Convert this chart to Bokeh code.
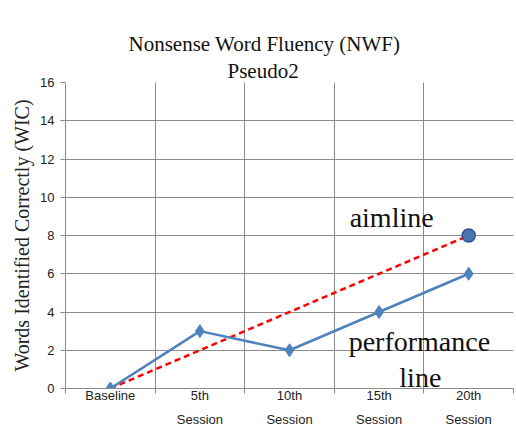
from bokeh.plotting import figure
from bokeh.models import Range1d, FixedTicker, Label, ColumnDataSource, Title
from bokeh.embed import file_html
from bokeh.resources import INLINE

categories = ["Baseline", "5th\nSession", "10th\nSession", "15th\nSession", "20th\nSession"]
performance = [0, 3, 2, 4, 6]
aimline = [0, 2, 4, 6, 8]
y_ticks = [0, 2, 4, 6, 8, 10, 12, 14, 16]

xpos = [i + 0.5 for i in range(len(categories))]

p = figure(width=516, height=441, output_backend="svg", toolbar_location=None,
           x_range=Range1d(0, len(categories)), y_range=Range1d(0, 16),
           min_border_left=65, min_border_right=3, min_border_top=82, min_border_bottom=53)

p.title.text = "Nonsense Word Fluency (NWF)"
p.title.align = "left"
p.title.offset = 63
p.title.text_font = "Liberation Serif"
p.title.text_font_style = "normal"
p.title.text_font_size = "21px"
p.title.text_color = "#111111"
p.title.standoff = 2
p.add_layout(Title(text="Pseudo2", align="left", offset=162,
                   text_font="Liberation Serif", text_font_style="normal",
                   text_font_size="21px", text_color="#111111", standoff=0), "above")
# invisible spacer between subtitle and plot area
p.add_layout(Title(text=".", text_font_size="10px", text_alpha=0, standoff=12), "above")

p.outline_line_color = None

# x axis
p.xaxis.ticker = FixedTicker(ticks=xpos, minor_ticks=list(range(len(categories) + 1)))
p.xaxis.major_label_overrides = {x: c for x, c in zip(xpos, categories)}
p.xaxis.major_tick_out = 0
p.xaxis.major_tick_in = 0
p.xaxis.minor_tick_out = 5
p.xaxis.minor_tick_in = 0
p.xaxis.minor_tick_line_color = "#8c8c8c"
p.xaxis.axis_line_color = "#8c8c8c"
p.xaxis.major_label_text_font = "Liberation Sans"
p.xaxis.major_label_text_font_size = "13px"
p.xaxis.major_label_text_line_height = 1.6
p.xaxis.major_label_text_color = "#222222"
p.xaxis.major_label_standoff = -6

p.xgrid.ticker = FixedTicker(ticks=list(range(len(categories) + 1)))
p.xgrid.grid_line_color = "#8c8c8c"

# y axis
p.yaxis.ticker = FixedTicker(ticks=y_ticks)
p.yaxis.minor_tick_line_color = None
p.yaxis.major_tick_out = 5
p.yaxis.major_tick_in = 0
p.yaxis.major_tick_line_color = "#8c8c8c"
p.yaxis.axis_line_color = "#8c8c8c"
p.yaxis.major_label_text_font = "Liberation Sans"
p.yaxis.major_label_text_font_size = "13px"
p.yaxis.major_label_text_color = "#222222"
p.yaxis.major_label_standoff = 6
p.yaxis.axis_label = "Words Identified Correctly (WIC)"
p.yaxis.axis_label_text_font = "Liberation Serif"
p.yaxis.axis_label_text_font_style = "normal"
p.yaxis.axis_label_text_font_size = "20px"
p.yaxis.axis_label_text_color = "#222222"
p.yaxis.axis_label_standoff = 4

p.ygrid.grid_line_color = "#8c8c8c"

src = ColumnDataSource(dict(x=xpos, perf=performance, aim=aimline))

p.line("x", "aim", source=src, line_color="#ff0000", line_width=2.5, line_dash="6 4")
p.line("x", "perf", source=src, line_color="#4f81bd", line_width=2.5)
p.scatter("x", "perf", source=src, marker="diamond", size=13, fill_color="#4f81bd", line_color="#4f81bd")
p.scatter([xpos[-1]], [aimline[-1]], marker="circle", size=13, fill_color="#4a76b0", line_color="#2f5597", line_width=1.5)

for txt, x, y in [("aimline", 3.64, 8.95), ("performance", 3.95, 2.46), ("line", 3.96, 0.57)]:
    p.add_layout(Label(x=x, y=y, text=txt, text_align="center", text_baseline="middle",
                       text_font="Liberation Serif", text_font_size="28px", text_color="#111111"))

open("out.html", "w").write(file_html(p, INLINE))
